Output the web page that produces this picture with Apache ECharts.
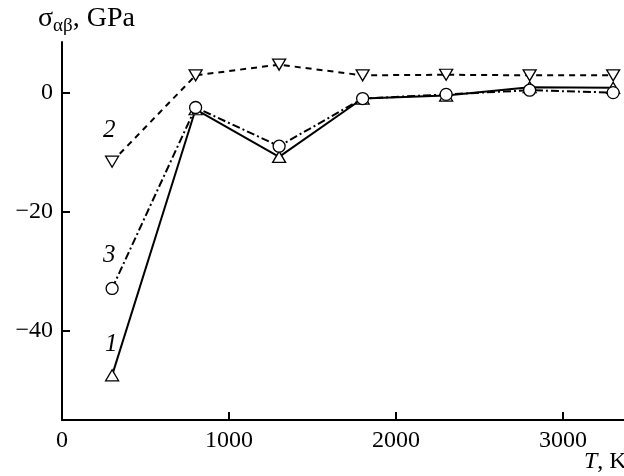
<!DOCTYPE html>
<html>
<head>
<meta charset="utf-8">
<script src="https://cdn.jsdelivr.net/npm/echarts@6/dist/echarts.min.js"></script>
<style>
  html, body { margin: 0; padding: 0; background: #fff; }
  #main { width: 624px; height: 476px; }
</style>
</head>
<body>
<div id="main"></div>
<script>
// temperatures, K
var temps = [300, 800, 1300, 1800, 2300, 2800, 3300];
// stress values, GPa
var curve1 = [-47.5, -2.8, -10.8, -1.0, -0.5, 0.9, 0.8];
var curve2 = [-11.6, 2.9, 4.7, 2.9, 3.0, 2.9, 2.9];
var curve3 = [-32.9, -2.5, -9.0, -1.0, -0.3, 0.4, 0.0];
var xTicks = [0, 1000, 2000, 3000];
var yTicks = [-40, -20, 0];

function pairs(ys) {
    return temps.map(function (t, i) { return [t, ys[i]]; });
}

var font = 'Liberation Serif';
var myChart = echarts.init(document.getElementById('main'));

myChart.setOption({
    animation: false,
    grid: { left: 62, right: 0, top: 42, bottom: 56 },
    xAxis: {
        type: 'value',
        min: 0,
        max: 3365,
        interval: 1000,
        splitLine: { show: false },
        axisLine: { onZero: false, lineStyle: { color: '#000', width: 2 } },
        axisTick: { inside: true, length: 8, customValues: [1000, 2000, 3000], lineStyle: { color: '#000', width: 2 } },
        axisLabel: {
            customValues: xTicks, color: '#000', fontFamily: font, fontSize: 24, margin: 9,
            formatter: function (v) { return String(v); }
        }
    },
    yAxis: {
        type: 'value',
        min: -55,
        max: 8.5,
        splitLine: { show: false },
        axisLine: { onZero: false, lineStyle: { color: '#000', width: 2 } },
        axisTick: { inside: true, length: 8, customValues: yTicks, lineStyle: { color: '#000', width: 2 } },
        axisLabel: {
            customValues: yTicks, color: '#000', fontFamily: font, fontSize: 24, margin: 9,
            formatter: function (v) { return v < 0 ? '\u2212' + (-v) : String(v); }
        }
    },
    series: [
        {
            name: '1', type: 'line', data: pairs(curve1),
            symbol: 'triangle', symbolSize: [13, 11],
            lineStyle: { color: '#000', width: 2, type: 'solid' },
            itemStyle: { color: '#fff', borderColor: '#000', borderWidth: 1.3 },
            z: 3
        },
        {
            name: '2', type: 'line', data: pairs(curve2),
            symbol: 'triangle', symbolRotate: 180, symbolSize: [13, 11],
            lineStyle: { color: '#000', width: 2, type: [6, 5] },
            itemStyle: { color: '#fff', borderColor: '#000', borderWidth: 1.3 },
            z: 4
        },
        {
            name: '3', type: 'line', data: pairs(curve3),
            symbol: 'circle', symbolSize: 12,
            lineStyle: { color: '#000', width: 2, type: [8, 3, 2, 3] },
            itemStyle: { color: '#fff', borderColor: '#000', borderWidth: 1.3 },
            z: 5
        }
    ],
    graphic: [
        {
            type: 'text', left: 38, top: 5,
            style: {
                text: '{s|\u03c3}{sub|\u03b1\u03b2}{s|, GPa}',
                rich: {
                    s: { fontFamily: font, fontSize: 28, fill: '#000' },
                    sub: { fontFamily: font, fontSize: 19, fill: '#000', padding: [15, 0, 0, 0] }
                }
            }
        },
        {
            type: 'text', left: 584, top: 450,
            style: {
                text: '{i|T}{n|, K}',
                rich: {
                    i: { fontFamily: font, fontSize: 24, fontStyle: 'italic', fill: '#000' },
                    n: { fontFamily: font, fontSize: 24, fill: '#000' }
                }
            }
        },
        { type: 'text', left: 103, top: 118, style: { text: '2', fontFamily: font, fontSize: 25, fontStyle: 'italic', fill: '#000' } },
        { type: 'text', left: 103, top: 243, style: { text: '3', fontFamily: font, fontSize: 25, fontStyle: 'italic', fill: '#000' } },
        { type: 'text', left: 105, top: 332, style: { text: '1', fontFamily: font, fontSize: 25, fontStyle: 'italic', fill: '#000' } }
    ]
});
</script>
</body>
</html>
